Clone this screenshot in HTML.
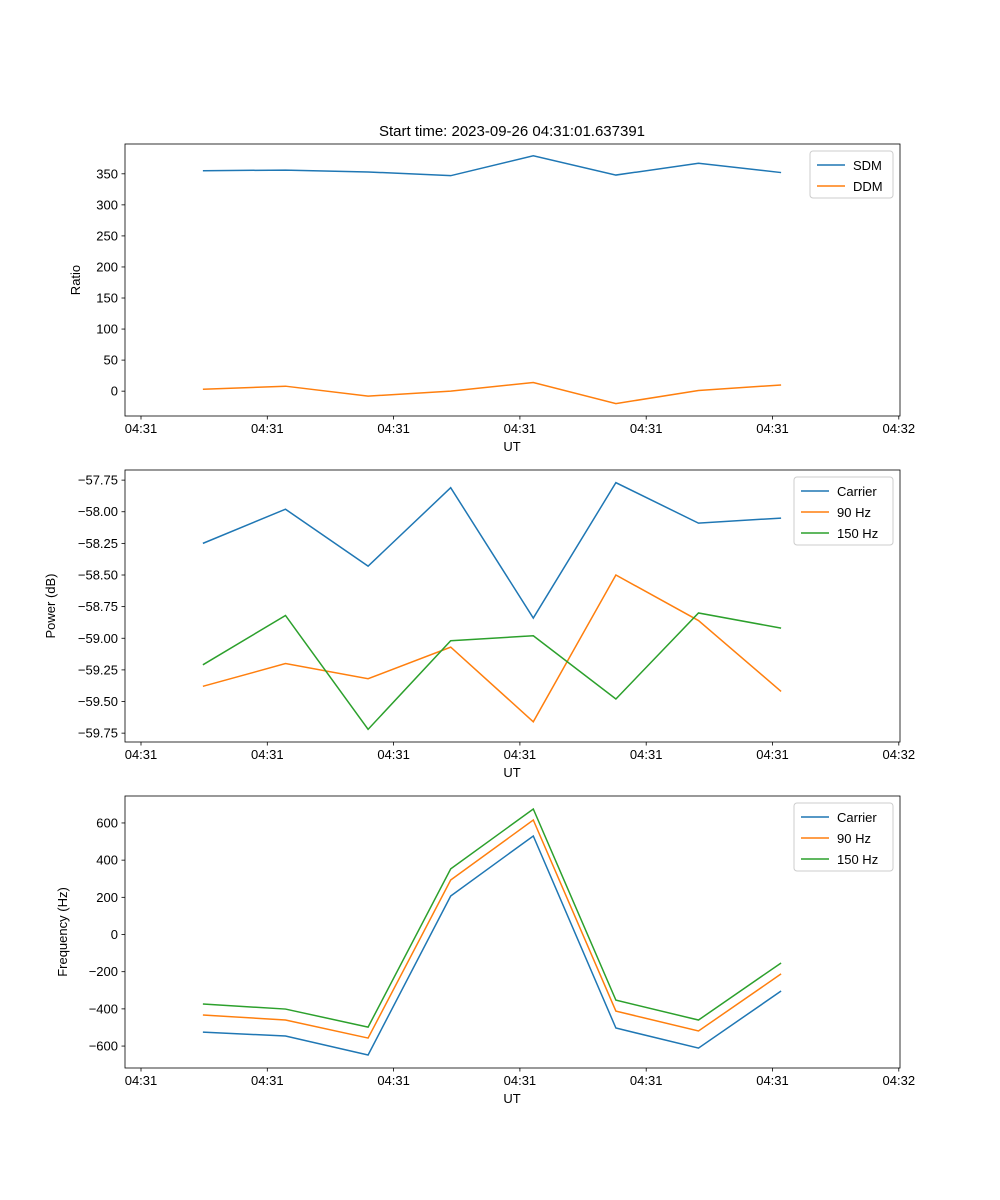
<!DOCTYPE html>
<html><head><meta charset="utf-8"><style>body{margin:0;background:#fff}svg{display:block;font-family:"Liberation Sans","DejaVu Sans",sans-serif}</style></head>
<body>
<svg id="fig" width="1000" height="1200" xmlns="http://www.w3.org/2000/svg">
<rect width="1000" height="1200" fill="#fff"/>
<text x="512" y="136" font-size="15" text-anchor="middle">Start time: 2023-09-26 04:31:01.637391</text>
</svg>
<script>
const xTimes = [4.9, 11.44, 17.98, 24.52, 31.06, 37.6, 44.14, 50.68];
const xTickVals = [0, 10, 20, 30, 40, 50, 60];
const xTickLabels = ["04:31","04:31","04:31","04:31","04:31","04:31","04:32"];
const sdm = [355, 356, 353, 347, 379, 348, 367, 352];
const ddm = [3, 8, -8, 0, 14, -20, 1, 10];
const pwrCarrier = [-58.25, -57.98, -58.43, -57.81, -58.84, -57.77, -58.09, -58.05];
const pwr90 = [-59.38, -59.20, -59.32, -59.07, -59.66, -58.50, -58.86, -59.42];
const pwr150 = [-59.21, -58.82, -59.72, -59.02, -58.98, -59.48, -58.80, -58.92];
const frqCarrier = [-525, -546, -648, 207, 530, -503, -611, -304];
const frq90 = [-433, -460, -557, 293, 616, -412, -519, -212];
const frq150 = [-374, -401, -498, 353, 675, -353, -460, -153];
const ticks1 = [0, 50, 100, 150, 200, 250, 300, 350];
const ticks2 = [-59.75, -59.5, -59.25, -59.0, -58.75, -58.5, -58.25, -58.0, -57.75];
const ticks3 = [-600, -400, -200, 0, 200, 400, 600];

const NS = "http://www.w3.org/2000/svg";
const svg = document.getElementById("fig");
function mk(tag, attrs, parent){const e=document.createElementNS(NS,tag);for(const k in attrs)e.setAttribute(k,attrs[k]);(parent||svg).appendChild(e);return e;}
const L=125,R=900;
const xS = t => 141 + t*12.63;
const C={b:"#1f77b4",o:"#ff7f0e",g:"#2ca02c"};

function panel(key, top, bot, ymin, ymax, yticks, fmt, ylabel, lx, series, legendW){
  const yS = v => bot - (v-ymin)/(ymax-ymin)*(bot-top);
  const g = mk("g",{});
  
  
  series.forEach(s=>{
    const p = mk("polyline",{points:s.vals.map((v,i)=>xS(xTimes[i])+","+yS(v)).join(" "),fill:"none",stroke:s.c,"stroke-width":1.5},g);
    
    
  });
  mk("rect",{x:L,y:top,width:R-L,height:bot-top,fill:"none",stroke:"#000","stroke-width":0.8},g);
  xTickVals.forEach((t,i)=>{
    const x=xS(t);
    mk("line",{x1:x,x2:x,y1:bot,y2:bot+3.5,stroke:"#000","stroke-width":0.8},g);
    const tx=mk("text",{x:x,y:bot+17,"font-size":13,"text-anchor":"middle"},g);tx.textContent=xTickLabels[i];
    
    
  });
  yticks.forEach(v=>{
    const y=yS(v);
    mk("line",{x1:L,x2:L-3.5,y1:y,y2:y,stroke:"#000","stroke-width":0.8},g);
    const tx=mk("text",{x:L-7,y:y+4.5,"font-size":13,"text-anchor":"end"},g);tx.textContent=fmt(v);
    
    
  });
  const xl=mk("text",{x:512,y:bot+35,"font-size":13,"text-anchor":"middle"},g);xl.textContent="UT";
  
  
  const cy=(top+bot)/2;
  const yl=mk("text",{x:lx,y:cy,"font-size":13,"text-anchor":"middle",transform:`rotate(-90 ${lx} ${cy})`},g);yl.textContent=ylabel;
  
  
  const lg=mk("g",{},g);
  
  
  const lx0=R-7-legendW, ly0=top+7;
  mk("rect",{x:lx0,y:ly0,width:legendW,height:series.length*21+5,fill:"#fff",stroke:"#ccc",rx:3},lg);
  series.forEach((s,i)=>{
    const yy=ly0+14+i*21;
    mk("line",{x1:lx0+7,x2:lx0+35,y1:yy,y2:yy,stroke:s.c,"stroke-width":1.5},lg);
    const t=mk("text",{x:lx0+43,y:yy+5,"font-size":13},lg);t.textContent=s.n;
    
    
  });
}
panel("ratio",144,416,-40,398,ticks1,v=>v<0?"−"+(-v):String(v),"Ratio",80,
  [{n:"SDM",vals:sdm,c:C.b},{n:"DDM",vals:ddm,c:C.o}],83);
panel("power",470,742,-59.82,-57.67,ticks2,v=>"−"+(-v).toFixed(2),"Power (dB)",55,
  [{n:"Carrier",vals:pwrCarrier,c:C.b},{n:"90 Hz",vals:pwr90,c:C.o},{n:"150 Hz",vals:pwr150,c:C.g}],99);
panel("frequency",796,1068,-718,745,ticks3,v=>v<0?"−"+(-v):String(v),"Frequency (Hz)",67,
  [{n:"Carrier",vals:frqCarrier,c:C.b},{n:"90 Hz",vals:frq90,c:C.o},{n:"150 Hz",vals:frq150,c:C.g}],99);
</script>
</body></html>
